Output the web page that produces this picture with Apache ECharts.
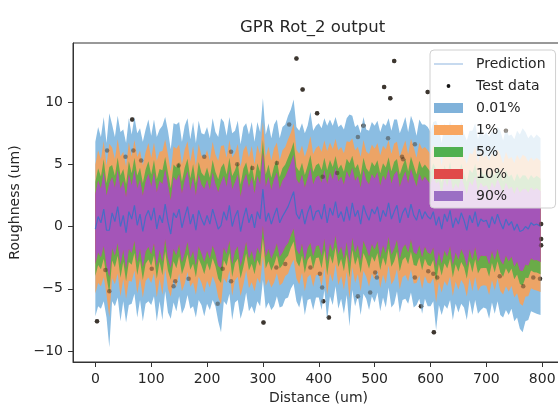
<!DOCTYPE html>
<html><head><meta charset="utf-8">
<script src="https://cdn.jsdelivr.net/npm/echarts@6/dist/echarts.min.js"></script>
<style>html,body{margin:0;padding:0;background:#fff}#c{width:558px;height:410px}</style>
</head><body><div id="c"></div>
<script>
// Distance grid (um)
const distance = [0,5,10,15,20,25,30,35,40,45,50,55,60,65,70,75,80,85,90,95,
100,105,110,115,120,125,130,135,140,145,150,155,160,165,170,175,180,185,190,195,
200,205,210,215,220,225,230,235,240,245,250,255,260,265,270,275,280,285,290,295,
300,305,310,315,320,325,330,335,340,345,350,355,360,365,370,375,380,385,390,395,
400,405,410,415,420,425,430,435,440,445,450,455,460,465,470,475,480,485,490,495,
500,505,510,515,520,525,530,535,540,545,550,555,560,565,570,575,580,585,590,595,
600,605,610,615,620,625,630,635,640,645,650,655,660,665,670,675,680,685,690,695,
700,705,710,715,720,725,730,735,740,745,750,755,760,765,770,775,780,785,790,797];
// GPR predicted mean
const prediction = [-0.2,0.8,0.3,1.4,-0.3,-0.3,1.1,0.4,1.6,0.0,0.9,-0.5,1.2,0.6,1.7,0.1,1.0,-0.4,0.8,1.3,
0.5,1.5,-0.2,0.9,0.3,1.8,0.4,-0.6,1.1,0.7,1.4,-0.1,0.8,1.6,0.2,1.0,-0.3,1.3,0.6,0.1,
0.9,0.2,1.4,0.6,-0.2,0.1,1.2,0.5,1.7,0.0,0.8,1.3,-0.4,0.7,1.5,0.3,1.0,-0.1,1.2,0.6,
3.0,0.4,1.1,0.2,0.9,1.5,0.3,0.8,1.2,1.6,2.2,2.8,1.0,0.6,1.4,0.2,1.1,1.7,0.5,1.2,
1.3,0.6,1.8,0.3,1.5,0.9,2.0,0.7,1.2,0.4,1.6,0.5,1.9,0.8,1.3,0.2,1.7,1.0,0.5,1.4,
1.0,1.6,0.4,1.3,0.8,1.9,0.6,1.2,1.7,0.3,1.1,1.5,0.7,1.8,0.9,0.5,1.4,0.6,1.2,0.8,
0.6,1.2,0.1,0.8,-0.2,1.0,0.4,1.3,-0.1,0.7,0.2,1.1,0.5,-0.3,0.9,0.3,1.2,0.0,0.6,0.4,
0.5,-0.1,0.8,0.2,1.0,0.3,-0.2,0.6,0.1,0.4,-0.3,0.2,-0.4,-0.3,0.0,-0.2,0.3,0.1,0.2,0.0];
// half width of the widest (0.01%) band
const halfWidth = [7.0,7.2,6.9,7.4,7.0,9.4,7.1,6.8,7.3,7.6,6.9,7.2,7.5,6.8,7.1,7.4,6.9,7.2,7.0,7.3,
6.8,7.1,7.4,6.9,7.8,7.0,7.3,6.8,7.2,7.5,7.0,6.9,7.3,7.1,6.8,7.4,7.0,7.2,6.9,7.3,
7.1,6.9,7.3,7.0,7.4,8.6,7.2,6.8,7.1,7.5,6.9,7.2,7.0,7.3,6.8,7.1,7.4,6.9,7.2,7.0,
7.3,7.0,7.2,6.9,7.3,7.1,6.8,7.2,7.0,7.3,7.2,7.4,7.0,7.1,6.9,7.3,7.0,7.5,7.2,6.9,
7.0,7.3,6.9,7.8,7.1,7.2,6.8,7.3,7.0,7.4,7.1,8.5,7.0,7.2,6.9,7.3,7.1,6.8,7.2,7.0,
7.1,6.9,7.2,7.0,7.3,6.8,7.1,7.4,6.9,7.2,7.0,7.3,6.9,7.1,7.4,6.8,7.2,7.6,7.0,7.2,
7.0,7.2,8.4,7.1,6.9,7.3,7.0,7.2,7.4,6.9,7.1,7.3,7.0,7.2,6.8,7.4,7.1,7.0,7.3,6.9,
7.1,7.3,6.9,7.2,7.0,7.4,7.1,7.3,7.2,7.0,7.3,7.5,7.8,8.2,7.6,7.3,7.1,7.0,7.2,7.1];
const bandNames = ['0.01%','1%','5%','10%','90%'];
const bandScale = [1.0,0.74,0.54,0.40,0.40];
// Test data
const testX = [3,18,21,25,54,66,68,82,101,140,143,149,167,195,219,228,243,243,254,281,301,324,325,340,347,360,371,385,397,402,406,407,408,418,433,470,470,480,492,501,504,517,524,528,535,549,551,572,572,583,595,596,605,606,612,724,735,766,784,796,798,798,798];
const testY = [-7.6,-3.5,6.1,-5.2,5.6,8.6,6.1,5.3,-3.4,-4.8,-4.4,4.9,-4.2,5.6,-6.2,-3.4,6.0,-4.4,5.0,4.7,-7.7,-3.3,5.1,-3.0,8.2,13.5,11.0,-3.3,9.1,-3.8,-4.9,4.0,-6.0,-7.3,4.3,7.2,-5.6,8.1,-5.3,-3.7,-4.1,11.2,7.1,10.3,13.3,5.6,5.4,6.6,-4.1,-6.4,10.8,-3.6,-3.8,-8.5,-4.1,-4.0,7.7,-4.8,-4.1,-4.2,0.2,-1.0,-1.5];
const xTicks = [0,100,200,300,400,500,600,700,800];
const yTicks = [-10,-5,0,5,10];

const FONT = 'DejaVu Sans';
const TXT = '#262626';
const bandColors = ['#8bbde2','#eca466','#6aab48','#d9534f','#a455b8'];
const legendColors = ['#80b2da','#f8a660','#50b050','#e04a4a','#9b6fc4'];
const rectIcon = 'path://M0,0 L29,0 L29,10 L0,10 Z M37,0 M37,10';
const lineIcon = 'path://M0,0 M37,10 M0,4.5 L29,4.5 L29,5.5 L0,5.5 Z';
const dotIcon = 'path://M0,0 M37,10 M12.6,5 A1.9,1.9 0 1,1 16.4,5 A1.9,1.9 0 1,1 12.6,5 Z';
const minus = v => (v < 0 ? '\u2212' : '') + Math.abs(v);

const testPoints = testX.map((x,i)=>[x, testY[i]]);
const series = [];
// test data beneath the bands (fully visible outside them)
series.push({type:'scatter', name:'Test data', symbolSize:4.5, silent:true, z:1,
  itemStyle:{color:'#111'}, data: testPoints});
// band data stored as [value, distance] so stacking applies to the y dimension
bandNames.forEach((name, b) => {
  const k = bandScale[b];
  series.push({type:'line', name: name + ' base', stack:'band'+b, stackStrategy:'all', symbol:'none', silent:true,
    encode:{x:1, y:0}, lineStyle:{width:0, opacity:0}, z:2,
    data: distance.map((x,i)=>[prediction[i]-k*halfWidth[i], x])});
  series.push({type:'line', name, stack:'band'+b, stackStrategy:'all', symbol:'none', silent:true,
    encode:{x:1, y:0}, lineStyle:{width:0, opacity:0}, itemStyle:{color:legendColors[b]}, z:2,
    areaStyle:{color:bandColors[b], opacity:1},
    data: distance.map((x,i)=>[2*k*halfWidth[i], x])});
});
series.push({type:'line', name:'Prediction', symbol:'none', silent:true, z:3,
  lineStyle:{color:'#3d6fc6', width:1.2, opacity:0.9}, itemStyle:{color:'#3d6fc6'},
  data: distance.map((x,i)=>[x, prediction[i]])});
// faint overlay so points inside the bands show through
series.push({type:'scatter', name:'Test data', symbolSize:4.5, silent:true, z:4,
  itemStyle:{color:'#3a2a1a', opacity:0.45}, data: testPoints});

const legendData = [
  {name:'Prediction', icon: lineIcon, itemStyle:{color:'#8fb4df', borderWidth:0, opacity:1}},
  {name:'Test data', icon: dotIcon, itemStyle:{color:'#151515', borderWidth:0, opacity:1}}
].concat(bandNames.map((n,b)=>({name:n, icon: rectIcon, itemStyle:{color:legendColors[b], borderWidth:0, opacity:1}})));

const chart = echarts.init(document.getElementById('c'), null, {renderer:'canvas'});
chart.setOption({
  animation:false,
  backgroundColor:'#fff',
  title:{text:'GPR Rot_2 output', left:240, top:19, padding:0,
    textStyle:{fontFamily:FONT, fontSize:16.5, fontWeight:'normal', color:TXT}},
  grid:{left:73, top:43, right:-6, bottom:48, outerBoundsMode:'none', containLabel:false,
    show:true, borderColor:'#333', borderWidth:1, backgroundColor:'transparent'},
  legend:{orient:'vertical', left:430, top:50, itemWidth:37, itemHeight:10, itemGap:8,
    padding:[7,10,5,4], backgroundColor:'rgba(255,255,255,0.8)', borderColor:'#d0d0d0', borderWidth:1, borderRadius:4,
    textStyle:{fontFamily:FONT, fontSize:14, color:TXT}, selectedMode:false, data: legendData},
  xAxis:{type:'value', min:-40, max:839, name:'Distance (um)', nameLocation:'middle', nameGap:29,
    nameTextStyle:{fontFamily:FONT, fontSize:14, color:TXT},
    axisLine:{show:true, onZero:false, lineStyle:{color:'#333', width:1}},
    axisTick:{show:true, length:5, customValues:xTicks, lineStyle:{color:'#333'}},
    axisLabel:{customValues:xTicks, fontFamily:FONT, fontSize:14, color:TXT, margin:10, formatter:minus},
    splitLine:{show:false}},
  yAxis:{type:'value', min:-10.88, max:14.74, name:'Roughness (um)', nameLocation:'middle', nameGap:49,
    nameTextStyle:{fontFamily:FONT, fontSize:14, color:TXT},
    axisLine:{show:true, onZero:false, lineStyle:{color:'#333', width:1}},
    axisTick:{show:true, length:5, customValues:yTicks, lineStyle:{color:'#333'}},
    axisLabel:{customValues:yTicks, fontFamily:FONT, fontSize:14, color:TXT, margin:10, formatter:minus},
    splitLine:{show:false}},
  series
});
</script></body></html>
